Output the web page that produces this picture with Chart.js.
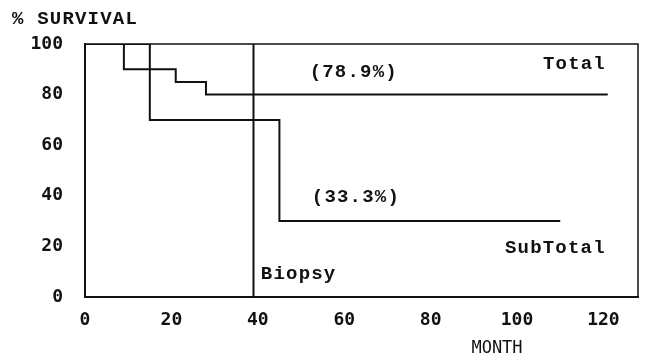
<!DOCTYPE html>
<html>
<head>
<meta charset="utf-8">
<title>% SURVIVAL</title>
<script src="https://cdn.jsdelivr.net/npm/chart.js@4/dist/chart.umd.min.js"></script>
<style>
  html, body { margin: 0; padding: 0; background: #fff; }
  #survivalChart { display: block; }
</style>
</head>
<body>
<canvas id="survivalChart" width="645" height="363"></canvas>
<script>
// Kaplan-Meier style curves (months, % survival)
const totalMonths = [0, 9, 21, 28, 121];
const totalSurvival = [100, 90, 85, 80, 80];
const subTotalMonths = [0, 15, 45, 110];
const subTotalSurvival = [100, 70, 30, 30];
const biopsyMonth = 39;

// Axis ticks
const xTicks = [0, 20, 40, 60, 80, 100, 120];
const yTicks = [0, 20, 40, 60, 80, 100];

// Text labels
const totalLabel = 'Total';
const totalRate = '(78.9%)';
const subTotalLabel = 'SubTotal';
const subTotalRate = '(33.3%)';
const biopsyLabel = 'Biopsy';
const yTitle = '% SURVIVAL';
const xTitle = 'MONTH';

const INK = '#111';
const MONO = '"Liberation Mono", "DejaVu Sans Mono", monospace';
const TICK_FONT = '"DejaVu Sans Mono", monospace';

/**
 * Zip two arrays into {x, y} points
 */
function toPoints(xs, ys) {
    return xs.map((x, i) => ({ x: x, y: ys[i] }));
}

/**
 * Frame around the plot area plus all free text
 */
const decorPlugin = {
    id: 'decor',
    beforeDatasetsDraw(chart) {
        const { ctx, chartArea: a } = chart;
        ctx.save();
        ctx.strokeStyle = INK;
        ctx.lineWidth = 1.5;
        ctx.beginPath();
        ctx.moveTo(a.left, a.top);
        ctx.lineTo(a.right, a.top);
        ctx.lineTo(a.right, a.bottom);
        ctx.stroke();
        ctx.restore();
    },
    afterDraw(chart) {
        const { ctx, scales: { x, y } } = chart;
        ctx.save();
        ctx.fillStyle = INK;
        ctx.textBaseline = 'middle';
        ctx.textAlign = 'left';
        ctx.font = 'bold 19px ' + MONO;
        ctx.letterSpacing = '1.2px';

        const put = (text, mx, sy) => ctx.fillText(text, x.getPixelForValue(mx), y.getPixelForValue(sy));
        put(totalRate, 52, 89);
        put(totalLabel, 106, 92);
        put(subTotalRate, 52.5, 39.5);
        put(subTotalLabel, 97.2, 19.4);
        put(biopsyLabel, 40.7, 9);

        // axis titles
        ctx.fillText(yTitle, 12, 19);
        ctx.font = '17px ' + TICK_FONT;
        ctx.letterSpacing = '0px';
        ctx.textAlign = 'center';
        ctx.fillText(xTitle, 497, 349);
        ctx.restore();
    }
};

/**
 * Build the chart
 */
function initSurvivalChart() {
    const ctx = document.getElementById('survivalChart').getContext('2d');

    new Chart(ctx, {
        type: 'line',
        data: {
            datasets: [
                {
                    label: totalLabel,
                    data: toPoints(totalMonths, totalSurvival),
                    stepped: true,
                    borderColor: INK,
                    borderWidth: 2,
                    pointRadius: 0,
                    fill: false
                },
                {
                    label: subTotalLabel,
                    data: toPoints(subTotalMonths, subTotalSurvival),
                    stepped: true,
                    borderColor: INK,
                    borderWidth: 2,
                    pointRadius: 0,
                    fill: false
                },
                {
                    label: biopsyLabel,
                    data: [{ x: biopsyMonth, y: 0 }, { x: biopsyMonth, y: 100 }],
                    borderColor: INK,
                    borderWidth: 2,
                    pointRadius: 0,
                    fill: false
                }
            ]
        },
        options: {
            responsive: false,
            animation: false,
            devicePixelRatio: 1,
            layout: { padding: { top: 44, right: 7, left: 0, bottom: 0 } },
            plugins: {
                legend: { display: false },
                tooltip: { enabled: false }
            },
            scales: {
                x: {
                    type: 'linear',
                    min: 0,
                    max: 128,
                    afterBuildTicks: s => { s.ticks = xTicks.map(v => ({ value: v })); },
                    afterFit: s => { s.height = 66; },
                    grid: { display: false, drawTicks: false },
                    border: { display: true, color: INK, width: 2 },
                    ticks: {
                        color: INK,
                        padding: 13,
                        maxRotation: 0,
                        font: { family: TICK_FONT, size: 18, weight: 'bold' }
                    }
                },
                y: {
                    type: 'linear',
                    min: 0,
                    max: 100,
                    afterBuildTicks: s => { s.ticks = yTicks.map(v => ({ value: v })); },
                    afterFit: s => { s.width = 85; },
                    grid: { display: false, drawTicks: false },
                    border: { display: true, color: INK, width: 2 },
                    ticks: {
                        color: INK,
                        padding: 22,
                        font: { family: TICK_FONT, size: 18, weight: 'bold' }
                    }
                }
            }
        },
        plugins: [decorPlugin]
    });
}

initSurvivalChart();
</script>
</body>
</html>
